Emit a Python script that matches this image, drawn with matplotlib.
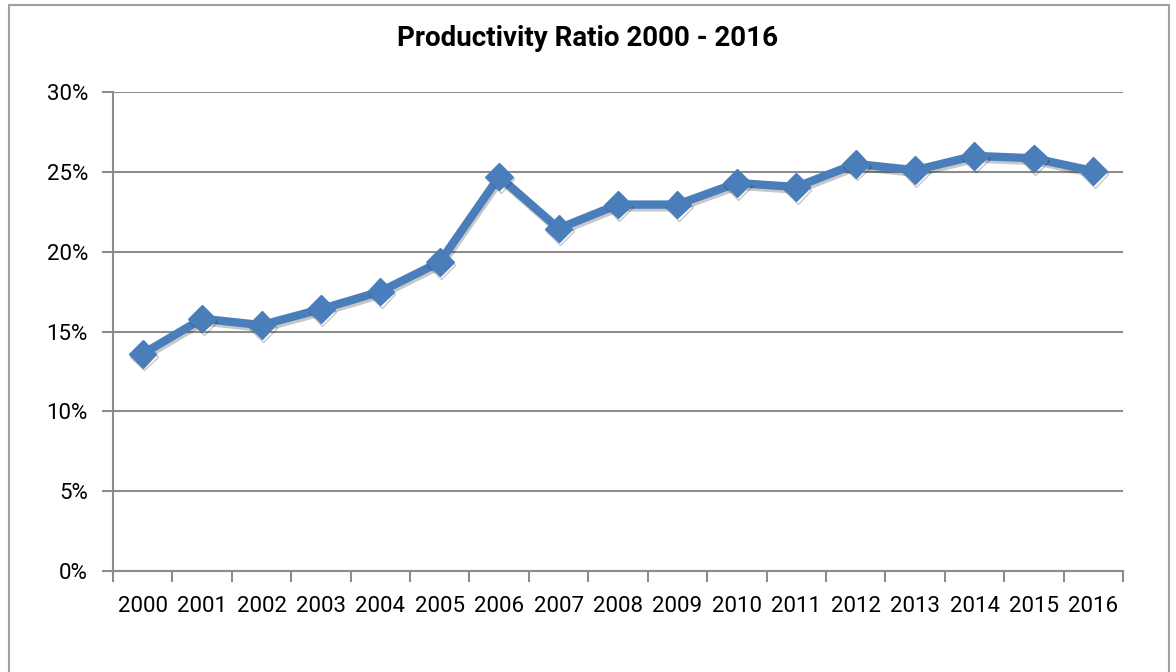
import matplotlib.pyplot as plt
import matplotlib.patheffects as pe
from matplotlib.patches import Rectangle
from matplotlib.ticker import FixedLocator, FuncFormatter

years = ["2000", "2001", "2002", "2003", "2004", "2005", "2006", "2007", "2008",
         "2009", "2010", "2011", "2012", "2013", "2014", "2015", "2016"]
ratio = [13.6, 15.8, 15.4, 16.4, 17.5, 19.35, 24.7, 21.45, 22.95,
         22.95, 24.3, 24.05, 25.5, 25.1, 26.0, 25.85, 25.05]

plt.rcParams['font.family'] = ['Roboto', 'DejaVu Sans']

fig = plt.figure(figsize=(11.76, 6.72), dpi=100)
ax = fig.add_axes([113 / 1176, 1 - 571 / 672, 1010 / 1176, 479 / 672])

# outer chart border
fig.patches.append(Rectangle((9 / 1176, -0.1), 1160 / 1176, 1.1 - 5 / 672,
                             transform=fig.transFigure, fill=False,
                             edgecolor="#a0a0a0", linewidth=1.5))

x = list(range(len(years)))
ax.plot(x, ratio, color="#4a7ebb", linewidth=6, marker="D", markersize=14,
        solid_joinstyle="round", zorder=3,
        path_effects=[pe.SimpleLineShadow(offset=(1, -2), shadow_color="black", alpha=0.22),
                      pe.Normal()])

ax.set_xlim(-0.5, len(years) - 0.5)
ax.set_ylim(0, 30)
ax.set_yticks(range(0, 31, 5))
ax.yaxis.set_major_formatter(FuncFormatter(lambda v, _: f"{v:.0f}%"))
ax.yaxis.grid(True, color="#8c8c8c", linewidth=1.5)
ax.set_axisbelow(True)

# ticks sit between categories, labels at category centres
ax.xaxis.set_major_locator(FixedLocator([i - 0.5 for i in range(len(years) + 1)]))
ax.xaxis.set_minor_locator(FixedLocator(x))
ax.set_xticklabels([])
ax.set_xticklabels(years, minor=True)
ax.tick_params(axis="x", which="major", length=8, width=1.5, color="#8c8c8c", direction="out")
ax.tick_params(axis="x", which="minor", length=0, pad=18, labelsize=16)
ax.tick_params(axis="y", length=8, width=1.5, color="#8c8c8c", labelsize=16, pad=10)

for side in ("top", "right"):
    ax.spines[side].set_visible(False)
for side in ("left", "bottom"):
    ax.spines[side].set_color("#8c8c8c")
    ax.spines[side].set_linewidth(1.5)

fig.text(588 / 1176, 1 - 38 / 672, "Productivity Ratio 2000 - 2016",
         ha="center", va="center", fontsize=20, fontweight="bold")

fig.savefig("out.png", dpi=100)
